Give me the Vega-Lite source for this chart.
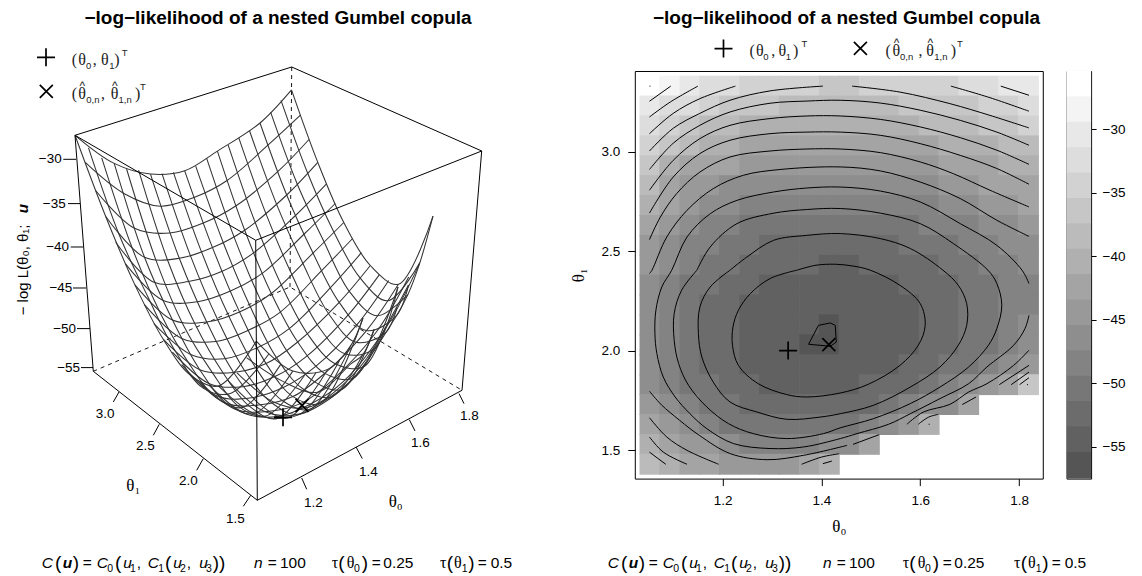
{"$schema":"https://vega.github.io/schema/vega-lite/v6.json","padding":0,"background":"white","bounds":"flush","spacing":23.8,"config":{"font":"Liberation Sans","view":{"stroke":null}},
"hconcat":[
{"width":610.9,"height":407.6,
"encoding":{"x":{"field":"x","type":"quantitative","axis":null,"scale":{"domain":[0,610.9],"nice":false,"zero":false}},"y":{"field":"y","type":"quantitative","axis":null,"scale":{"domain":[478.3,70.7],"nice":false,"zero":false}}},
"layer":[
{"data":{"values":[{"x":0,"y":0,"o":0},{"x":0,"y":576,"o":1},{"x":1142,"y":576,"o":2}]},"mark":{"type":"line","opacity":0,"strokeWidth":0},"encoding":{"order":{"field":"o"}}},
{"data":{"values":[{"t":"−log−likelihood of a nested Gumbel copula","x":278,"y":23.3},{"t":"−log−likelihood of a nested Gumbel copula","x":846.5,"y":23.3}]},"mark":{"type":"text","font":"Liberation Sans","fontSize":19,"fontWeight":"bold","align":"center","baseline":"alphabetic","color":"black"},"encoding":{"text":{"field":"t"}}},
{"data":{"values":[{"l":"a","o":0,"x":93.3,"y":371},{"l":"a","o":1,"x":290,"y":286.7},{"l":"a","o":2,"x":462,"y":390},{"l":"b","o":0,"x":290,"y":286.7},{"l":"b","o":1,"x":291.7,"y":66.7}]},"mark":{"type":"line","stroke":"black","strokeWidth":0.9,"strokeDash":[4,4]},"encoding":{"detail":{"field":"l"},"order":{"field":"o"}}},
{"data":{"values":[
{"w":"r0","x":75,"y":135},{"w":"r0","x":114.2,"y":163.1},{"w":"r0","x":150.5,"y":173.8},{"w":"r0","x":184.7,"y":170.5},{"w":"r0","x":217.4,"y":150.8},{"w":"r0","x":260,"y":122.7},{"w":"r0","x":291.5,"y":89.6},
{"w":"r1","x":85.3,"y":162.1},{"w":"r1","x":124.3,"y":193.4},{"w":"r1","x":160.3,"y":205.9},{"w":"r1","x":194,"y":197.2},{"w":"r1","x":226.7,"y":180.4},{"w":"r1","x":269,"y":143.9},{"w":"r1","x":300.4,"y":114.9},
{"w":"r2","x":95.6,"y":190.2},{"w":"r2","x":134.5,"y":228},{"w":"r2","x":169.8,"y":232.7},{"w":"r2","x":203.2,"y":222.8},{"w":"r2","x":235.7,"y":205.7},{"w":"r2","x":277.7,"y":171.4},{"w":"r2","x":309,"y":139.2},
{"w":"r3","x":105.7,"y":216.2},{"w":"r3","x":144.5,"y":257},{"w":"r3","x":179.3,"y":258},{"w":"r3","x":212.5,"y":247.3},{"w":"r3","x":244.7,"y":229.9},{"w":"r3","x":286.7,"y":194.7},{"w":"r3","x":317.8,"y":162.1},
{"w":"r4","x":115.7,"y":241.9},{"w":"r4","x":154,"y":281.9},{"w":"r4","x":188.5,"y":281.3},{"w":"r4","x":221.6,"y":271.3},{"w":"r4","x":253.6,"y":252.6},{"w":"r4","x":295.5,"y":215.2},{"w":"r4","x":326.5,"y":183.6},
{"w":"r5","x":125.3,"y":263.3},{"w":"r5","x":163.2,"y":300.1},{"w":"r5","x":197.6,"y":301.4},{"w":"r5","x":230.5,"y":290.8},{"w":"r5","x":262.5,"y":272.9},{"w":"r5","x":304.2,"y":233.7},{"w":"r5","x":335.2,"y":203.2},
{"w":"r6","x":134.9,"y":284.6},{"w":"r6","x":172.5,"y":319.8},{"w":"r6","x":206.7,"y":321.7},{"w":"r6","x":239.5,"y":311.6},{"w":"r6","x":271.3,"y":293.2},{"w":"r6","x":313,"y":252.8},{"w":"r6","x":343.8,"y":222.2},
{"w":"r7","x":144.4,"y":304.3},{"w":"r7","x":181.6,"y":338.1},{"w":"r7","x":215.7,"y":341.2},{"w":"r7","x":248.3,"y":330},{"w":"r7","x":280,"y":312},{"w":"r7","x":321.6,"y":270.4},{"w":"r7","x":352.6,"y":238.2},
{"w":"r8","x":153.9,"y":323.3},{"w":"r8","x":190.6,"y":354.1},{"w":"r8","x":224.6,"y":358.4},{"w":"r8","x":257.2,"y":347.4},{"w":"r8","x":288.9,"y":328.5},{"w":"r8","x":330.5,"y":287.3},{"w":"r8","x":361.4,"y":252.4},
{"w":"r9","x":163.2,"y":338.9},{"w":"r9","x":199.7,"y":369.4},{"w":"r9","x":233.6,"y":372.2},{"w":"r9","x":266.1,"y":363.3},{"w":"r9","x":297.7,"y":341.7},{"w":"r9","x":339.2,"y":302.1},{"w":"r9","x":370.3,"y":265.2},
{"w":"r10","x":172.4,"y":351.9},{"w":"r10","x":208.8,"y":383.1},{"w":"r10","x":242.5,"y":386.4},{"w":"r10","x":274.9,"y":376.3},{"w":"r10","x":306.5,"y":356.1},{"w":"r10","x":348.2,"y":314.6},{"w":"r10","x":379.4,"y":274.3},
{"w":"r11","x":181.6,"y":364.4},{"w":"r11","x":217.7,"y":396},{"w":"r11","x":251.4,"y":397.4},{"w":"r11","x":283.8,"y":387},{"w":"r11","x":315.4,"y":366.4},{"w":"r11","x":357.2,"y":324.1},{"w":"r11","x":388.7,"y":280.2},
{"w":"r12","x":190.8,"y":375.2},{"w":"r12","x":226.8,"y":403.3},{"w":"r12","x":260.4,"y":404.5},{"w":"r12","x":292.9,"y":396.3},{"w":"r12","x":324.7,"y":373.1},{"w":"r12","x":366.5,"y":330.3},{"w":"r12","x":398.4,"y":284},
{"w":"r13","x":200,"y":381.8},{"w":"r13","x":235.8,"y":409.2},{"w":"r13","x":269.5,"y":411},{"w":"r13","x":302,"y":402.6},{"w":"r13","x":333.8,"y":378.5},{"w":"r13","x":376.1,"y":332},{"w":"r13","x":408.7,"y":276.6},
{"w":"r14","x":209,"y":384.9},{"w":"r14","x":244.8,"y":413.2},{"w":"r14","x":278.6,"y":416},{"w":"r14","x":311.2,"y":403.5},{"w":"r14","x":343.2,"y":381.3},{"w":"r14","x":386,"y":327.4},{"w":"r14","x":419.5,"y":263.3},
{"w":"r15","x":218.3,"y":385.7},{"w":"r15","x":254.1,"y":413.4},{"w":"r15","x":287.9,"y":417.5},{"w":"r15","x":320.7,"y":402.8},{"w":"r15","x":353,"y":378},{"w":"r15","x":396.6,"y":315.2},{"w":"r15","x":407.9,"y":294.3},{"w":"r15","x":419.9,"y":262.3},{"w":"r15","x":433,"y":215.9},
{"w":"r16","x":227.6,"y":379.9},{"w":"r16","x":263.5,"y":410.8},{"w":"r16","x":297.5,"y":414.4},{"w":"r16","x":330.5,"y":397.9},{"w":"r16","x":363.2,"y":367.4},{"w":"r16","x":385.7,"y":326.9},{"w":"r16","x":408.5,"y":284.8},
{"w":"r17","x":237,"y":372.5},{"w":"r17","x":273,"y":401.4},{"w":"r17","x":307.1,"y":407.3},{"w":"r17","x":340.5,"y":386.6},{"w":"r17","x":374,"y":347.2},{"w":"r17","x":398,"y":286.7},
{"w":"r18","x":246.5,"y":357.4},{"w":"r18","x":282.9,"y":381.1},{"w":"r18","x":317.3,"y":391.9},{"w":"r18","x":351.2,"y":363.3},{"w":"r18","x":362.5,"y":354.9},{"w":"r18","x":374.2,"y":329},
{"w":"r19","x":256.3,"y":340.9},{"w":"r19","x":292.8,"y":370.8},{"w":"r19","x":327.6,"y":369.1},{"w":"r19","x":350.9,"y":345.1},{"w":"r19","x":363,"y":317.7},
{"w":"c0","x":75,"y":135},{"w":"c0","x":105.7,"y":216.2},{"w":"c0","x":134.9,"y":284.6},{"w":"c0","x":163.2,"y":338.9},{"w":"c0","x":190.8,"y":375.2},{"w":"c0","x":218.3,"y":385.7},{"w":"c0","x":256.3,"y":340.9},
{"w":"c1","x":88.5,"y":147.6},{"w":"c1","x":119.2,"y":234.5},{"w":"c1","x":147.7,"y":296.2},{"w":"c1","x":175.7,"y":351.5},{"w":"c1","x":203.1,"y":387.8},{"w":"c1","x":230.4,"y":393.1},{"w":"c1","x":268.8,"y":353.7},
{"w":"c2","x":101.7,"y":157.6},{"w":"c2","x":132,"y":247.2},{"w":"c2","x":160.5,"y":313.1},{"w":"c2","x":187.8,"y":361.3},{"w":"c2","x":215,"y":396.6},{"w":"c2","x":242.5,"y":407.2},{"w":"c2","x":280.9,"y":363.8},
{"w":"c3","x":114.2,"y":163.1},{"w":"c3","x":144.5,"y":257},{"w":"c3","x":172.5,"y":319.8},{"w":"c3","x":199.7,"y":369.4},{"w":"c3","x":226.8,"y":403.3},{"w":"c3","x":254.1,"y":413.4},{"w":"c3","x":292.8,"y":370.8},
{"w":"c4","x":126.6,"y":168.7},{"w":"c4","x":156.3,"y":260.8},{"w":"c4","x":184.2,"y":326.5},{"w":"c4","x":211.2,"y":370.6},{"w":"c4","x":238.2,"y":405.8},{"w":"c4","x":265.6,"y":415.8},{"w":"c4","x":304.6,"y":374.9},
{"w":"c5","x":138.6,"y":169.8},{"w":"c5","x":167.9,"y":260.7},{"w":"c5","x":195.5,"y":324.8},{"w":"c5","x":222.5,"y":371.7},{"w":"c5","x":249.4,"y":405.9},{"w":"c5","x":276.8,"y":418.4},{"w":"c5","x":316.2,"y":371.9},
{"w":"c6","x":150.5,"y":173.8},{"w":"c6","x":179.3,"y":258},{"w":"c6","x":206.7,"y":321.7},{"w":"c6","x":233.6,"y":372.2},{"w":"c6","x":260.4,"y":404.5},{"w":"c6","x":287.9,"y":417.5},{"w":"c6","x":327.6,"y":369.1},
{"w":"c7","x":162,"y":173.3},{"w":"c7","x":190.4,"y":255.3},{"w":"c7","x":217.7,"y":319.4},{"w":"c7","x":244.5,"y":370.2},{"w":"c7","x":271.4,"y":402.3},{"w":"c7","x":299,"y":413.8},{"w":"c7","x":339.3,"y":360.8},
{"w":"c8","x":173.4,"y":172},{"w":"c8","x":201.5,"y":251.6},{"w":"c8","x":228.7,"y":315.5},{"w":"c8","x":255.4,"y":366.9},{"w":"c8","x":282.2,"y":400.2},{"w":"c8","x":309.8,"y":409},{"w":"c8","x":350.9,"y":345.1},
{"w":"c9","x":184.7,"y":170.5},{"w":"c9","x":212.5,"y":247.3},{"w":"c9","x":239.5,"y":311.6},{"w":"c9","x":266.1,"y":363.3},{"w":"c9","x":292.9,"y":396.3},{"w":"c9","x":320.7,"y":402.8},{"w":"c9","x":363,"y":317.7},
{"w":"c10","x":195.7,"y":165.8},{"w":"c10","x":223.3,"y":242.4},{"w":"c10","x":250.2,"y":306.2},{"w":"c10","x":276.6,"y":357.6},{"w":"c10","x":303.5,"y":388.9},{"w":"c10","x":331.4,"y":396.6},{"w":"c10","x":362.5,"y":354.9},
{"w":"c11","x":206.6,"y":157.9},{"w":"c11","x":234,"y":236.6},{"w":"c11","x":260.7,"y":300.1},{"w":"c11","x":287.2,"y":351.1},{"w":"c11","x":314.2,"y":381.3},{"w":"c11","x":342.2,"y":388.9},{"w":"c11","x":374.2,"y":329},
{"w":"c12","x":217.4,"y":150.8},{"w":"c12","x":244.7,"y":229.9},{"w":"c12","x":271.3,"y":293.2},{"w":"c12","x":297.7,"y":341.7},{"w":"c12","x":324.7,"y":373.1},{"w":"c12","x":353,"y":378},{"w":"c12","x":374,"y":347.2},
{"w":"c13","x":228.1,"y":144.5},{"w":"c13","x":255.3,"y":222.5},{"w":"c13","x":281.7,"y":285.5},{"w":"c13","x":308.1,"y":334.5},{"w":"c13","x":335.1,"y":363.5},{"w":"c13","x":363.7,"y":366.5},{"w":"c13","x":385.4,"y":327.1},
{"w":"c14","x":238.8,"y":137.6},{"w":"c14","x":265.8,"y":213.1},{"w":"c14","x":292.1,"y":274.8},{"w":"c14","x":318.4,"y":326},{"w":"c14","x":345.6,"y":353.8},{"w":"c14","x":374.7,"y":347.9},{"w":"c14","x":398,"y":286.7},
{"w":"c15","x":249.5,"y":130.5},{"w":"c15","x":276.3,"y":203.3},{"w":"c15","x":302.7,"y":262.7},{"w":"c15","x":328.8,"y":313.7},{"w":"c15","x":356.1,"y":342},{"w":"c15","x":385.6,"y":332.3},{"w":"c15","x":396.9,"y":307.9},
{"w":"c16","x":260,"y":122.7},{"w":"c16","x":286.7,"y":194.7},{"w":"c16","x":313,"y":252.8},{"w":"c16","x":339.2,"y":302.1},{"w":"c16","x":366.5,"y":330.3},{"w":"c16","x":396.6,"y":315.2},{"w":"c16","x":408.5,"y":284.8},
{"w":"c17","x":270.6,"y":111.9},{"w":"c17","x":297.1,"y":183.4},{"w":"c17","x":323.3,"y":240},{"w":"c17","x":349.5,"y":291.3},{"w":"c17","x":377.1,"y":315.5},{"w":"c17","x":407.9,"y":294.3},
{"w":"c18","x":281,"y":100},{"w":"c18","x":307.5,"y":172.4},{"w":"c18","x":333.6,"y":231.1},{"w":"c18","x":359.9,"y":277.4},{"w":"c18","x":387.7,"y":300.5},{"w":"c18","x":419.9,"y":262.3},
{"w":"c19","x":291.5,"y":89.6},{"w":"c19","x":317.8,"y":162.1},{"w":"c19","x":343.8,"y":222.2},{"w":"c19","x":370.3,"y":265.2},{"w":"c19","x":398.4,"y":284},{"w":"c19","x":433,"y":215.9}
]},"mark":{"type":"line","stroke":"#333333","strokeWidth":1.05,"interpolate":"catmull-rom"},"encoding":{"detail":{"field":"w"}}},
{"data":{"values":[
{"l":"t","o":0,"x":75,"y":135},{"l":"t","o":1,"x":291.7,"y":66.7},{"l":"t","o":2,"x":481.7,"y":150.7},{"l":"t","o":3,"x":255.7,"y":240},{"l":"t","o":4,"x":75,"y":135},
{"l":"vl","o":0,"x":75,"y":135},{"l":"vl","o":1,"x":93.3,"y":371},{"l":"vl","o":2,"x":257.3,"y":500},{"l":"vl","o":3,"x":462,"y":390},{"l":"vl","o":4,"x":481.7,"y":150.7},
{"l":"vf","o":0,"x":255.7,"y":240},{"l":"vf","o":1,"x":257.3,"y":500},
{"l":"z1","o":0,"x":76,"y":159},{"l":"z1","o":1,"x":63.3,"y":159},{"l":"z2","o":0,"x":80,"y":203.3},{"l":"z2","o":1,"x":68,"y":203.3},{"l":"z3","o":0,"x":83,"y":246.7},{"l":"z3","o":1,"x":70.7,"y":246.7},{"l":"z4","o":0,"x":86,"y":287.7},{"l":"z4","o":1,"x":73,"y":287.7},{"l":"z5","o":0,"x":90,"y":328.3},{"l":"z5","o":1,"x":77,"y":328.3},{"l":"z6","o":0,"x":93,"y":367.3},{"l":"z6","o":1,"x":81,"y":367.3},
{"l":"b1","o":0,"x":119,"y":391.7},{"l":"b1","o":1,"x":113.3,"y":401.7},{"l":"b2","o":0,"x":159.3,"y":424},{"l":"b2","o":1,"x":153.3,"y":435},{"l":"b3","o":0,"x":203.3,"y":458.3},{"l":"b3","o":1,"x":196.7,"y":470},{"l":"b4","o":0,"x":250.7,"y":495},{"l":"b4","o":1,"x":243.3,"y":506},
{"l":"a1","o":0,"x":301.7,"y":477.7},{"l":"a1","o":1,"x":306.7,"y":489},{"l":"a2","o":0,"x":356,"y":446.7},{"l":"a2","o":1,"x":362.3,"y":458.3},{"l":"a3","o":0,"x":409.3,"y":419.3},{"l":"a3","o":1,"x":415,"y":430.7},{"l":"a4","o":0,"x":459,"y":393.3},{"l":"a4","o":1,"x":464,"y":403.3}
]},"mark":{"type":"line","stroke":"black","strokeWidth":1},"encoding":{"detail":{"field":"l"},"order":{"field":"o"}}},
{"data":{"values":[{"x":46,"y":57},{"x":283,"y":417},{"x":723.5,"y":48.3}]},"mark":{"type":"point","shape":"M-1,0L1,0M0,-1L0,1","size":324,"filled":false,"stroke":"black","strokeWidth":1.7,"opacity":1}},
{"data":{"values":[{"x":46.3,"y":91},{"x":302,"y":405},{"x":860.4,"y":48}]},"mark":{"type":"point","shape":"M-1,-1L1,1M-1,1L1,-1","size":169,"filled":false,"stroke":"black","strokeWidth":1.7,"opacity":1}},
{"data":{"values":[{"t":"3.0","x":105,"y":413.3},{"t":"2.5","x":145.3,"y":446},{"t":"2.0","x":188.3,"y":481},{"t":"1.5","x":235.3,"y":518.3},{"t":"1.2","x":313.3,"y":502.3},{"t":"1.4","x":368.3,"y":471.7},{"t":"1.6","x":420.3,"y":442.3},{"t":"1.8","x":469.3,"y":415.3}]},"mark":{"type":"text","font":"Liberation Sans","fontSize":13.5,"align":"center","baseline":"middle","color":"black"},"encoding":{"text":{"field":"t"}}},
{"data":{"values":[{"t":"−30","x":61.7,"y":159},{"t":"−35","x":65.7,"y":203.3},{"t":"−40","x":69,"y":246.7},{"t":"−45","x":72.3,"y":287.7},{"t":"−50","x":76,"y":328.3},{"t":"−55","x":80,"y":367.3}]},"mark":{"type":"text","font":"Liberation Sans","fontSize":13.5,"align":"right","baseline":"middle","color":"black"},"encoding":{"text":{"field":"t"}}},
{"data":{"values":[{"t":"θ₁","x":133.3,"y":486},{"t":"θ₀","x":395.7,"y":501.7}]},"mark":{"type":"text","font":"Liberation Serif","fontSize":17,"align":"center","baseline":"middle","color":"black"},"encoding":{"text":{"field":"t"}}},
{"data":{"values":[{"t":"− log L(θ₀, θ₁; ","x":28,"y":315}]},"mark":{"type":"text","font":"Liberation Sans","fontSize":15,"angle":270,"align":"left","baseline":"alphabetic","color":"black"},"encoding":{"text":{"field":"t"}}},
{"data":{"values":[{"t":"u","x":28,"y":213}]},"mark":{"type":"text","font":"Liberation Sans","fontSize":15,"fontWeight":"bold","fontStyle":"italic","angle":270,"align":"left","baseline":"alphabetic","color":"black"},"encoding":{"text":{"field":"t"}}},
{"data":{"values":[{"t":"=","x":82.7,"y":568},{"t":",","x":136.7,"y":568},{"t":",","x":186.7,"y":568},{"t":"=","x":267.7,"y":568},{"t":"100","x":280,"y":568},{"t":"=","x":371.7,"y":568},{"t":"0.25","x":383.3,"y":568},{"t":"=","x":477.7,"y":568},{"t":"0.5","x":490.7,"y":568},{"t":"=","x":648.7,"y":568},{"t":",","x":702.7,"y":568},{"t":",","x":752.7,"y":568},{"t":"=","x":836.7,"y":568},{"t":"100","x":849,"y":568},{"t":"=","x":942.7,"y":568},{"t":"0.25","x":954.3,"y":568},{"t":"=","x":1051.7,"y":568},{"t":"0.5","x":1064.7,"y":568}]},"mark":{"type":"text","font":"Liberation Sans","fontSize":15.5,"align":"left","baseline":"alphabetic","color":"black"},"encoding":{"text":{"field":"t"}}},
{"data":{"values":[{"t":"C","x":41.7,"y":568},{"t":"C","x":96.7,"y":568},{"t":"C","x":147.7,"y":568},{"t":"n","x":254,"y":568},{"t":"u","x":123.3,"y":568},{"t":"u","x":173.3,"y":568},{"t":"u","x":199.3,"y":568},{"t":"C","x":607.7,"y":568},{"t":"C","x":662.7,"y":568},{"t":"C","x":713.7,"y":568},{"t":"n","x":823,"y":568},{"t":"u","x":689.3,"y":568},{"t":"u","x":739.3,"y":568},{"t":"u","x":765.3,"y":568}]},"mark":{"type":"text","font":"Liberation Sans","fontSize":15.5,"fontStyle":"italic","align":"left","baseline":"alphabetic","color":"black"},"encoding":{"text":{"field":"t"}}},
{"data":{"values":[{"t":"u","x":62.7,"y":568},{"t":"u","x":628.7,"y":568}]},"mark":{"type":"text","font":"Liberation Sans","fontSize":15.5,"fontStyle":"italic","fontWeight":"bold","align":"left","baseline":"alphabetic","color":"black"},"encoding":{"text":{"field":"t"}}},
{"data":{"values":[{"t":"(","x":55,"y":569},{"t":")","x":72.7,"y":569},{"t":"(","x":115,"y":569},{"t":"(","x":165,"y":569},{"t":"))","x":212.7,"y":569},{"t":"(","x":338.3,"y":569},{"t":")","x":361.7,"y":569},{"t":"(","x":446.7,"y":569},{"t":")","x":468.3,"y":569},{"t":"(","x":621,"y":569},{"t":")","x":638.7,"y":569},{"t":"(","x":681,"y":569},{"t":"(","x":731,"y":569},{"t":"))","x":778.7,"y":569},{"t":"(","x":909.3,"y":569},{"t":")","x":932.7,"y":569},{"t":"(","x":1020.7,"y":569},{"t":")","x":1042.3,"y":569}]},"mark":{"type":"text","font":"Liberation Sans","fontSize":19,"align":"left","baseline":"alphabetic","color":"black"},"encoding":{"text":{"field":"t"}}},
{"data":{"values":[{"t":"τ","x":331.7,"y":568},{"t":"θ","x":346.7,"y":568},{"t":"τ","x":440,"y":568},{"t":"θ","x":454,"y":568},{"t":"τ","x":902.7,"y":568},{"t":"θ","x":917.7,"y":568},{"t":"τ","x":1014,"y":568},{"t":"θ","x":1028,"y":568}]},"mark":{"type":"text","font":"Liberation Serif","fontSize":16,"align":"left","baseline":"alphabetic","color":"black"},"encoding":{"text":{"field":"t"}}},
{"data":{"values":[{"t":"0","x":107.3,"y":571.5},{"t":"1","x":130,"y":571.5},{"t":"1","x":158.3,"y":571.5},{"t":"2","x":180,"y":571.5},{"t":"3","x":206,"y":571.5},{"t":"0","x":354,"y":571.5},{"t":"1","x":461.7,"y":571.5},{"t":"0","x":673.3,"y":571.5},{"t":"1","x":696,"y":571.5},{"t":"1","x":724.3,"y":571.5},{"t":"2","x":746,"y":571.5},{"t":"3","x":772,"y":571.5},{"t":"0","x":925,"y":571.5},{"t":"1","x":1035.7,"y":571.5}]},"mark":{"type":"text","font":"Liberation Sans","fontSize":10.5,"align":"left","baseline":"alphabetic","color":"black"},"encoding":{"text":{"field":"t"}}},
{"data":{"values":[{"t":"(","x":71.7,"y":65},{"t":"θ","x":78.3,"y":65},{"t":",","x":92.7,"y":65},{"t":"θ","x":101,"y":65},{"t":")","x":114.3,"y":65},{"t":"(","x":71.7,"y":99},{"t":"θ","x":78.3,"y":99},{"t":",","x":101,"y":99},{"t":"θ","x":110.7,"y":99},{"t":")","x":135,"y":99},{"t":"(","x":749.4,"y":56},{"t":"θ","x":756,"y":56},{"t":",","x":771.2,"y":56},{"t":"θ","x":778.5,"y":56},{"t":")","x":793,"y":56},{"t":"(","x":885.5,"y":56},{"t":"θ","x":892.5,"y":56},{"t":",","x":918.5,"y":56},{"t":"θ","x":926.3,"y":56},{"t":")","x":950.7,"y":56}]},"mark":{"type":"text","font":"Liberation Serif","fontSize":16,"align":"left","baseline":"alphabetic","color":"#222222"},"encoding":{"text":{"field":"t"}}},
{"data":{"values":[{"t":"0","x":86,"y":68.5},{"t":"1","x":109.3,"y":68.5},{"t":"T","x":121.7,"y":56},{"t":"0,n","x":86.3,"y":102.5},{"t":"1,n","x":118.5,"y":102.5},{"t":"T","x":140,"y":90},{"t":"0","x":763.2,"y":59.5},{"t":"1","x":785.8,"y":59.5},{"t":"T","x":801.5,"y":47},{"t":"0,n","x":900,"y":59.5},{"t":"1,n","x":934.3,"y":59.5},{"t":"T","x":956.9,"y":47}]},"mark":{"type":"text","font":"Liberation Sans","fontSize":9.5,"align":"left","baseline":"alphabetic","color":"#222222"},"encoding":{"text":{"field":"t"}}},
{"data":{"values":[{"t":"^","x":79.5,"y":90},{"t":"^","x":111.9,"y":90},{"t":"^","x":893.7,"y":47},{"t":"^","x":927.5,"y":47}]},"mark":{"type":"text","font":"Liberation Sans","fontSize":12,"align":"left","baseline":"alphabetic","color":"#222222"},"encoding":{"text":{"field":"t"}}}
]},
{"width":408,"height":407.6,"view":{"stroke":"black","strokeWidth":1},
"encoding":{"x":{"field":"a","type":"quantitative","title":"θ₀","scale":{"domain":[1.0223,1.848],"nice":false,"zero":false},"axis":{"values":[1.2,1.4,1.6,1.8],"format":".1f","grid":false,"domain":false,"tickColor":"black","tickSize":7,"labelFont":"Liberation Sans","labelFontSize":13.5,"labelColor":"black","labelPadding":8,"titleFont":"Liberation Serif","titleFontSize":17,"titleFontWeight":"normal","titleColor":"black","titlePadding":11}},
"y":{"field":"b","type":"quantitative","title":"θ₁","scale":{"domain":[1.358,3.406],"nice":false,"zero":false},"axis":{"values":[1.5,2,2.5,3],"format":".1f","grid":false,"domain":false,"tickColor":"black","tickSize":7,"labelFont":"Liberation Sans","labelFontSize":13.5,"labelColor":"black","labelPadding":8,"titleFont":"Liberation Serif","titleFontSize":17,"titleFontWeight":"normal","titleColor":"black","titlePadding":14}}},
"layer":[
{"data":{"values":[
{"a":1.053,"b":3.33,"v":-26},{"a":1.093,"b":3.33,"v":-28},{"a":1.134,"b":3.33,"v":-30},{"a":1.174,"b":3.33,"v":-32},{"a":1.214,"b":3.33,"v":-32},{"a":1.255,"b":3.33,"v":-34},{"a":1.295,"b":3.33,"v":-34},{"a":1.335,"b":3.33,"v":-34},{"a":1.376,"b":3.33,"v":-34},{"a":1.416,"b":3.33,"v":-36},{"a":1.456,"b":3.33,"v":-36},{"a":1.497,"b":3.33,"v":-34},{"a":1.537,"b":3.33,"v":-34},{"a":1.577,"b":3.33,"v":-34},{"a":1.618,"b":3.33,"v":-34},{"a":1.658,"b":3.33,"v":-34},{"a":1.698,"b":3.33,"v":-32},{"a":1.739,"b":3.33,"v":-32},{"a":1.779,"b":3.33,"v":-30},{"a":1.819,"b":3.33,"v":-30},
{"a":1.053,"b":3.23,"v":-30},{"a":1.093,"b":3.23,"v":-32},{"a":1.134,"b":3.23,"v":-32},{"a":1.174,"b":3.23,"v":-34},{"a":1.214,"b":3.23,"v":-36},{"a":1.255,"b":3.23,"v":-36},{"a":1.295,"b":3.23,"v":-36},{"a":1.335,"b":3.23,"v":-38},{"a":1.376,"b":3.23,"v":-38},{"a":1.416,"b":3.23,"v":-38},{"a":1.456,"b":3.23,"v":-38},{"a":1.497,"b":3.23,"v":-38},{"a":1.537,"b":3.23,"v":-38},{"a":1.577,"b":3.23,"v":-36},{"a":1.618,"b":3.23,"v":-36},{"a":1.658,"b":3.23,"v":-36},{"a":1.698,"b":3.23,"v":-36},{"a":1.739,"b":3.23,"v":-34},{"a":1.779,"b":3.23,"v":-34},{"a":1.819,"b":3.23,"v":-32},
{"a":1.053,"b":3.13,"v":-32},{"a":1.093,"b":3.13,"v":-34},{"a":1.134,"b":3.13,"v":-36},{"a":1.174,"b":3.13,"v":-38},{"a":1.214,"b":3.13,"v":-38},{"a":1.255,"b":3.13,"v":-40},{"a":1.295,"b":3.13,"v":-40},{"a":1.335,"b":3.13,"v":-40},{"a":1.376,"b":3.13,"v":-40},{"a":1.416,"b":3.13,"v":-40},{"a":1.456,"b":3.13,"v":-40},{"a":1.497,"b":3.13,"v":-40},{"a":1.537,"b":3.13,"v":-40},{"a":1.577,"b":3.13,"v":-40},{"a":1.618,"b":3.13,"v":-38},{"a":1.658,"b":3.13,"v":-38},{"a":1.698,"b":3.13,"v":-38},{"a":1.739,"b":3.13,"v":-36},{"a":1.779,"b":3.13,"v":-36},{"a":1.819,"b":3.13,"v":-34},
{"a":1.053,"b":3.03,"v":-34},{"a":1.093,"b":3.03,"v":-36},{"a":1.134,"b":3.03,"v":-38},{"a":1.174,"b":3.03,"v":-40},{"a":1.214,"b":3.03,"v":-40},{"a":1.255,"b":3.03,"v":-42},{"a":1.295,"b":3.03,"v":-42},{"a":1.335,"b":3.03,"v":-42},{"a":1.376,"b":3.03,"v":-42},{"a":1.416,"b":3.03,"v":-42},{"a":1.456,"b":3.03,"v":-42},{"a":1.497,"b":3.03,"v":-42},{"a":1.537,"b":3.03,"v":-42},{"a":1.577,"b":3.03,"v":-42},{"a":1.618,"b":3.03,"v":-42},{"a":1.658,"b":3.03,"v":-40},{"a":1.698,"b":3.03,"v":-40},{"a":1.739,"b":3.03,"v":-40},{"a":1.779,"b":3.03,"v":-38},{"a":1.819,"b":3.03,"v":-38},
{"a":1.053,"b":2.93,"v":-36},{"a":1.093,"b":2.93,"v":-40},{"a":1.134,"b":2.93,"v":-42},{"a":1.174,"b":2.93,"v":-42},{"a":1.214,"b":2.93,"v":-42},{"a":1.255,"b":2.93,"v":-44},{"a":1.295,"b":2.93,"v":-44},{"a":1.335,"b":2.93,"v":-44},{"a":1.376,"b":2.93,"v":-44},{"a":1.416,"b":2.93,"v":-44},{"a":1.456,"b":2.93,"v":-44},{"a":1.497,"b":2.93,"v":-44},{"a":1.537,"b":2.93,"v":-44},{"a":1.577,"b":2.93,"v":-44},{"a":1.618,"b":2.93,"v":-44},{"a":1.658,"b":2.93,"v":-42},{"a":1.698,"b":2.93,"v":-42},{"a":1.739,"b":2.93,"v":-42},{"a":1.779,"b":2.93,"v":-40},{"a":1.819,"b":2.93,"v":-40},
{"a":1.053,"b":2.83,"v":-38},{"a":1.093,"b":2.83,"v":-42},{"a":1.134,"b":2.83,"v":-44},{"a":1.174,"b":2.83,"v":-44},{"a":1.214,"b":2.83,"v":-46},{"a":1.255,"b":2.83,"v":-46},{"a":1.295,"b":2.83,"v":-46},{"a":1.335,"b":2.83,"v":-46},{"a":1.376,"b":2.83,"v":-46},{"a":1.416,"b":2.83,"v":-46},{"a":1.456,"b":2.83,"v":-46},{"a":1.497,"b":2.83,"v":-46},{"a":1.537,"b":2.83,"v":-46},{"a":1.577,"b":2.83,"v":-46},{"a":1.618,"b":2.83,"v":-46},{"a":1.658,"b":2.83,"v":-44},{"a":1.698,"b":2.83,"v":-44},{"a":1.739,"b":2.83,"v":-42},{"a":1.779,"b":2.83,"v":-42},{"a":1.819,"b":2.83,"v":-42},
{"a":1.053,"b":2.73,"v":-40},{"a":1.093,"b":2.73,"v":-42},{"a":1.134,"b":2.73,"v":-44},{"a":1.174,"b":2.73,"v":-46},{"a":1.214,"b":2.73,"v":-46},{"a":1.255,"b":2.73,"v":-48},{"a":1.295,"b":2.73,"v":-48},{"a":1.335,"b":2.73,"v":-48},{"a":1.376,"b":2.73,"v":-48},{"a":1.416,"b":2.73,"v":-48},{"a":1.456,"b":2.73,"v":-48},{"a":1.497,"b":2.73,"v":-48},{"a":1.537,"b":2.73,"v":-48},{"a":1.577,"b":2.73,"v":-48},{"a":1.618,"b":2.73,"v":-48},{"a":1.658,"b":2.73,"v":-46},{"a":1.698,"b":2.73,"v":-46},{"a":1.739,"b":2.73,"v":-44},{"a":1.779,"b":2.73,"v":-44},{"a":1.819,"b":2.73,"v":-42},
{"a":1.053,"b":2.63,"v":-42},{"a":1.093,"b":2.63,"v":-44},{"a":1.134,"b":2.63,"v":-46},{"a":1.174,"b":2.63,"v":-48},{"a":1.214,"b":2.63,"v":-48},{"a":1.255,"b":2.63,"v":-50},{"a":1.295,"b":2.63,"v":-50},{"a":1.335,"b":2.63,"v":-50},{"a":1.376,"b":2.63,"v":-50},{"a":1.416,"b":2.63,"v":-50},{"a":1.456,"b":2.63,"v":-50},{"a":1.497,"b":2.63,"v":-50},{"a":1.537,"b":2.63,"v":-50},{"a":1.577,"b":2.63,"v":-50},{"a":1.618,"b":2.63,"v":-48},{"a":1.658,"b":2.63,"v":-48},{"a":1.698,"b":2.63,"v":-48},{"a":1.739,"b":2.63,"v":-46},{"a":1.779,"b":2.63,"v":-46},{"a":1.819,"b":2.63,"v":-44},
{"a":1.053,"b":2.53,"v":-44},{"a":1.093,"b":2.53,"v":-46},{"a":1.134,"b":2.53,"v":-48},{"a":1.174,"b":2.53,"v":-48},{"a":1.214,"b":2.53,"v":-50},{"a":1.255,"b":2.53,"v":-50},{"a":1.295,"b":2.53,"v":-52},{"a":1.335,"b":2.53,"v":-52},{"a":1.376,"b":2.53,"v":-52},{"a":1.416,"b":2.53,"v":-52},{"a":1.456,"b":2.53,"v":-52},{"a":1.497,"b":2.53,"v":-52},{"a":1.537,"b":2.53,"v":-52},{"a":1.577,"b":2.53,"v":-50},{"a":1.618,"b":2.53,"v":-50},{"a":1.658,"b":2.53,"v":-50},{"a":1.698,"b":2.53,"v":-48},{"a":1.739,"b":2.53,"v":-48},{"a":1.779,"b":2.53,"v":-46},{"a":1.819,"b":2.53,"v":-46},
{"a":1.053,"b":2.43,"v":-44},{"a":1.093,"b":2.43,"v":-46},{"a":1.134,"b":2.43,"v":-48},{"a":1.174,"b":2.43,"v":-50},{"a":1.214,"b":2.43,"v":-50},{"a":1.255,"b":2.43,"v":-52},{"a":1.295,"b":2.43,"v":-52},{"a":1.335,"b":2.43,"v":-52},{"a":1.376,"b":2.43,"v":-52},{"a":1.416,"b":2.43,"v":-54},{"a":1.456,"b":2.43,"v":-54},{"a":1.497,"b":2.43,"v":-52},{"a":1.537,"b":2.43,"v":-52},{"a":1.577,"b":2.43,"v":-52},{"a":1.618,"b":2.43,"v":-52},{"a":1.658,"b":2.43,"v":-50},{"a":1.698,"b":2.43,"v":-50},{"a":1.739,"b":2.43,"v":-48},{"a":1.779,"b":2.43,"v":-48},{"a":1.819,"b":2.43,"v":-46},
{"a":1.053,"b":2.33,"v":-46},{"a":1.093,"b":2.33,"v":-48},{"a":1.134,"b":2.33,"v":-50},{"a":1.174,"b":2.33,"v":-50},{"a":1.214,"b":2.33,"v":-52},{"a":1.255,"b":2.33,"v":-52},{"a":1.295,"b":2.33,"v":-54},{"a":1.335,"b":2.33,"v":-54},{"a":1.376,"b":2.33,"v":-54},{"a":1.416,"b":2.33,"v":-54},{"a":1.456,"b":2.33,"v":-54},{"a":1.497,"b":2.33,"v":-54},{"a":1.537,"b":2.33,"v":-54},{"a":1.577,"b":2.33,"v":-52},{"a":1.618,"b":2.33,"v":-52},{"a":1.658,"b":2.33,"v":-52},{"a":1.698,"b":2.33,"v":-50},{"a":1.739,"b":2.33,"v":-50},{"a":1.779,"b":2.33,"v":-48},{"a":1.819,"b":2.33,"v":-48},
{"a":1.053,"b":2.23,"v":-46},{"a":1.093,"b":2.23,"v":-48},{"a":1.134,"b":2.23,"v":-50},{"a":1.174,"b":2.23,"v":-52},{"a":1.214,"b":2.23,"v":-52},{"a":1.255,"b":2.23,"v":-54},{"a":1.295,"b":2.23,"v":-54},{"a":1.335,"b":2.23,"v":-54},{"a":1.376,"b":2.23,"v":-54},{"a":1.416,"b":2.23,"v":-54},{"a":1.456,"b":2.23,"v":-54},{"a":1.497,"b":2.23,"v":-54},{"a":1.537,"b":2.23,"v":-54},{"a":1.577,"b":2.23,"v":-54},{"a":1.618,"b":2.23,"v":-52},{"a":1.658,"b":2.23,"v":-52},{"a":1.698,"b":2.23,"v":-50},{"a":1.739,"b":2.23,"v":-50},{"a":1.779,"b":2.23,"v":-48},{"a":1.819,"b":2.23,"v":-48},
{"a":1.053,"b":2.13,"v":-46},{"a":1.093,"b":2.13,"v":-48},{"a":1.134,"b":2.13,"v":-50},{"a":1.174,"b":2.13,"v":-52},{"a":1.214,"b":2.13,"v":-52},{"a":1.255,"b":2.13,"v":-54},{"a":1.295,"b":2.13,"v":-54},{"a":1.335,"b":2.13,"v":-54},{"a":1.376,"b":2.13,"v":-54},{"a":1.416,"b":2.13,"v":-56},{"a":1.456,"b":2.13,"v":-54},{"a":1.497,"b":2.13,"v":-54},{"a":1.537,"b":2.13,"v":-54},{"a":1.577,"b":2.13,"v":-54},{"a":1.618,"b":2.13,"v":-52},{"a":1.658,"b":2.13,"v":-52},{"a":1.698,"b":2.13,"v":-50},{"a":1.739,"b":2.13,"v":-50},{"a":1.779,"b":2.13,"v":-48},{"a":1.819,"b":2.13,"v":-46},
{"a":1.053,"b":2.03,"v":-46},{"a":1.093,"b":2.03,"v":-48},{"a":1.134,"b":2.03,"v":-50},{"a":1.174,"b":2.03,"v":-52},{"a":1.214,"b":2.03,"v":-52},{"a":1.255,"b":2.03,"v":-54},{"a":1.295,"b":2.03,"v":-54},{"a":1.335,"b":2.03,"v":-54},{"a":1.376,"b":2.03,"v":-56},{"a":1.416,"b":2.03,"v":-56},{"a":1.456,"b":2.03,"v":-54},{"a":1.497,"b":2.03,"v":-54},{"a":1.537,"b":2.03,"v":-54},{"a":1.577,"b":2.03,"v":-54},{"a":1.618,"b":2.03,"v":-52},{"a":1.658,"b":2.03,"v":-52},{"a":1.698,"b":2.03,"v":-50},{"a":1.739,"b":2.03,"v":-50},{"a":1.779,"b":2.03,"v":-48},{"a":1.819,"b":2.03,"v":-46},
{"a":1.053,"b":1.93,"v":-46},{"a":1.093,"b":1.93,"v":-48},{"a":1.134,"b":1.93,"v":-50},{"a":1.174,"b":1.93,"v":-52},{"a":1.214,"b":1.93,"v":-52},{"a":1.255,"b":1.93,"v":-54},{"a":1.295,"b":1.93,"v":-54},{"a":1.335,"b":1.93,"v":-54},{"a":1.376,"b":1.93,"v":-54},{"a":1.416,"b":1.93,"v":-54},{"a":1.456,"b":1.93,"v":-54},{"a":1.497,"b":1.93,"v":-54},{"a":1.537,"b":1.93,"v":-54},{"a":1.577,"b":1.93,"v":-52},{"a":1.618,"b":1.93,"v":-52},{"a":1.658,"b":1.93,"v":-50},{"a":1.698,"b":1.93,"v":-50},{"a":1.739,"b":1.93,"v":-48},{"a":1.779,"b":1.93,"v":-46},{"a":1.819,"b":1.93,"v":-44},
{"a":1.053,"b":1.83,"v":-46},{"a":1.093,"b":1.83,"v":-48},{"a":1.134,"b":1.83,"v":-50},{"a":1.174,"b":1.83,"v":-50},{"a":1.214,"b":1.83,"v":-52},{"a":1.255,"b":1.83,"v":-52},{"a":1.295,"b":1.83,"v":-54},{"a":1.335,"b":1.83,"v":-54},{"a":1.376,"b":1.83,"v":-54},{"a":1.416,"b":1.83,"v":-54},{"a":1.456,"b":1.83,"v":-54},{"a":1.497,"b":1.83,"v":-52},{"a":1.537,"b":1.83,"v":-52},{"a":1.577,"b":1.83,"v":-52},{"a":1.618,"b":1.83,"v":-50},{"a":1.658,"b":1.83,"v":-48},{"a":1.698,"b":1.83,"v":-46},{"a":1.739,"b":1.83,"v":-44},{"a":1.779,"b":1.83,"v":-42},{"a":1.819,"b":1.83,"v":-36},
{"a":1.053,"b":1.73,"v":-44},{"a":1.093,"b":1.73,"v":-46},{"a":1.134,"b":1.73,"v":-48},{"a":1.174,"b":1.73,"v":-50},{"a":1.214,"b":1.73,"v":-50},{"a":1.255,"b":1.73,"v":-52},{"a":1.295,"b":1.73,"v":-52},{"a":1.335,"b":1.73,"v":-52},{"a":1.376,"b":1.73,"v":-52},{"a":1.416,"b":1.73,"v":-52},{"a":1.456,"b":1.73,"v":-52},{"a":1.497,"b":1.73,"v":-52},{"a":1.537,"b":1.73,"v":-50},{"a":1.577,"b":1.73,"v":-48},{"a":1.618,"b":1.73,"v":-46},{"a":1.658,"b":1.73,"v":-46},{"a":1.698,"b":1.73,"v":-42},
{"a":1.053,"b":1.63,"v":-42},{"a":1.093,"b":1.63,"v":-44},{"a":1.134,"b":1.63,"v":-46},{"a":1.174,"b":1.63,"v":-48},{"a":1.214,"b":1.63,"v":-50},{"a":1.255,"b":1.63,"v":-50},{"a":1.295,"b":1.63,"v":-50},{"a":1.335,"b":1.63,"v":-50},{"a":1.376,"b":1.63,"v":-50},{"a":1.416,"b":1.63,"v":-50},{"a":1.456,"b":1.63,"v":-50},{"a":1.497,"b":1.63,"v":-48},{"a":1.537,"b":1.63,"v":-46},{"a":1.577,"b":1.63,"v":-44},{"a":1.618,"b":1.63,"v":-40},
{"a":1.053,"b":1.53,"v":-40},{"a":1.093,"b":1.53,"v":-42},{"a":1.134,"b":1.53,"v":-44},{"a":1.174,"b":1.53,"v":-44},{"a":1.214,"b":1.53,"v":-46},{"a":1.255,"b":1.53,"v":-48},{"a":1.295,"b":1.53,"v":-48},{"a":1.335,"b":1.53,"v":-48},{"a":1.376,"b":1.53,"v":-48},{"a":1.416,"b":1.53,"v":-46},{"a":1.456,"b":1.53,"v":-46},{"a":1.497,"b":1.53,"v":-42},
{"a":1.053,"b":1.43,"v":-38},{"a":1.093,"b":1.43,"v":-40},{"a":1.134,"b":1.43,"v":-42},{"a":1.174,"b":1.43,"v":-42},{"a":1.214,"b":1.43,"v":-44},{"a":1.255,"b":1.43,"v":-44},{"a":1.295,"b":1.43,"v":-44},{"a":1.335,"b":1.43,"v":-44},{"a":1.376,"b":1.43,"v":-42},{"a":1.416,"b":1.43,"v":-40}
]},"mark":{"type":"rect","width":20.9,"height":20.9},"encoding":{"color":{"field":"v","type":"quantitative","legend":null,"scale":{"type":"threshold","domain":[-55,-53,-51,-49,-47,-45,-43,-41,-39,-37,-35,-33,-31,-29,-27],"range":["#555555","#616161","#6c6c6c","#777777","#838383","#8e8e8e","#999999","#a4a4a4","#b0b0b0","#bbbbbb","#c6c6c6","#d2d2d2","#dddddd","#e8e8e8","#f4f4f4","#ffffff"]}}}},
{"data":{"values":[
{"p":"m30","o":0,"a":1.052,"b":3.254},{"p":"m30","o":1,"a":1.095,"b":3.33},
{"p":"m32","o":0,"a":1.052,"b":3.175},{"p":"m32","o":1,"a":1.094,"b":3.25},{"p":"m32","o":2,"a":1.15,"b":3.33},
{"p":"m34","o":0,"a":1.052,"b":3.091},{"p":"m34","o":1,"a":1.1,"b":3.193},{"p":"m34","o":2,"a":1.154,"b":3.267},{"p":"m34","o":3,"a":1.226,"b":3.33},
{"p":"m36","o":0,"a":1.052,"b":3.004},{"p":"m36","o":1,"a":1.1,"b":3.118},{"p":"m36","o":2,"a":1.154,"b":3.193},{"p":"m36","o":3,"a":1.215,"b":3.259},{"p":"m36","o":4,"a":1.296,"b":3.306},{"p":"m36","o":5,"a":1.403,"b":3.33},
{"p":"m36r","o":0,"a":1.462,"b":3.33},{"p":"m36r","o":1,"a":1.559,"b":3.3},{"p":"m36r","o":2,"a":1.66,"b":3.242},{"p":"m36r","o":3,"a":1.741,"b":3.183},{"p":"m36r","o":4,"a":1.82,"b":3.12},
{"p":"m34r","o":0,"a":1.662,"b":3.33},{"p":"m34r","o":1,"a":1.741,"b":3.272},{"p":"m34r","o":2,"a":1.82,"b":3.204},
{"p":"m32r","o":0,"a":1.763,"b":3.33},{"p":"m32r","o":1,"a":1.82,"b":3.284},
{"p":"m38","o":0,"a":1.052,"b":2.911},{"p":"m38","o":1,"a":1.1,"b":3.043},{"p":"m38","o":2,"a":1.154,"b":3.133},{"p":"m38","o":3,"a":1.215,"b":3.2},{"p":"m38","o":4,"a":1.296,"b":3.244},{"p":"m38","o":5,"a":1.371,"b":3.255},{"p":"m38","o":6,"a":1.438,"b":3.259},{"p":"m38","o":7,"a":1.519,"b":3.245},{"p":"m38","o":8,"a":1.6,"b":3.209},{"p":"m38","o":9,"a":1.681,"b":3.158},{"p":"m38","o":10,"a":1.755,"b":3.099},{"p":"m38","o":11,"a":1.82,"b":3.033},
{"p":"m40","o":0,"a":1.052,"b":2.807},{"p":"m40","o":1,"a":1.1,"b":2.957},{"p":"m40","o":2,"a":1.154,"b":3.066},{"p":"m40","o":3,"a":1.215,"b":3.133},{"p":"m40","o":4,"a":1.296,"b":3.167},{"p":"m40","o":5,"a":1.371,"b":3.18},{"p":"m40","o":6,"a":1.438,"b":3.18},{"p":"m40","o":7,"a":1.519,"b":3.163},{"p":"m40","o":8,"a":1.6,"b":3.125},{"p":"m40","o":9,"a":1.681,"b":3.071},{"p":"m40","o":10,"a":1.755,"b":3.008},{"p":"m40","o":11,"a":1.82,"b":2.937},
{"p":"m42","o":0,"a":1.052,"b":2.692},{"p":"m42","o":1,"a":1.1,"b":2.873},{"p":"m42","o":2,"a":1.154,"b":2.991},{"p":"m42","o":3,"a":1.215,"b":3.058},{"p":"m42","o":4,"a":1.296,"b":3.091},{"p":"m42","o":5,"a":1.371,"b":3.099},{"p":"m42","o":6,"a":1.438,"b":3.099},{"p":"m42","o":7,"a":1.519,"b":3.083},{"p":"m42","o":8,"a":1.6,"b":3.041},{"p":"m42","o":9,"a":1.681,"b":2.982},{"p":"m42","o":10,"a":1.755,"b":2.916},{"p":"m42","o":11,"a":1.82,"b":2.837},
{"p":"m44","o":0,"a":1.052,"b":2.559},{"p":"m44","o":1,"a":1.074,"b":2.672},{"p":"m44","o":2,"a":1.107,"b":2.79},{"p":"m44","o":3,"a":1.154,"b":2.898},{"p":"m44","o":4,"a":1.215,"b":2.974},{"p":"m44","o":5,"a":1.296,"b":3.004},{"p":"m44","o":6,"a":1.371,"b":3.014},{"p":"m44","o":7,"a":1.438,"b":3.014},{"p":"m44","o":8,"a":1.519,"b":2.996},{"p":"m44","o":9,"a":1.6,"b":2.949},{"p":"m44","o":10,"a":1.667,"b":2.89},{"p":"m44","o":11,"a":1.741,"b":2.807},{"p":"m44","o":12,"a":1.82,"b":2.723},
{"p":"m46","o":0,"a":1.052,"b":2.388},{"p":"m46","o":1,"a":1.057,"b":2.405},{"p":"m46","o":2,"a":1.087,"b":2.572},{"p":"m46","o":3,"a":1.128,"b":2.706},{"p":"m46","o":4,"a":1.181,"b":2.815},{"p":"m46","o":5,"a":1.242,"b":2.882},{"p":"m46","o":6,"a":1.316,"b":2.911},{"p":"m46","o":7,"a":1.438,"b":2.924},{"p":"m46","o":8,"a":1.519,"b":2.904},{"p":"m46","o":9,"a":1.6,"b":2.848},{"p":"m46","o":10,"a":1.681,"b":2.765},{"p":"m46","o":11,"a":1.755,"b":2.656},{"p":"m46","o":12,"a":1.82,"b":2.575},
{"p":"m48","o":0,"a":1.82,"b":2.178},{"p":"m48","o":1,"a":1.812,"b":2.112},{"p":"m48","o":2,"a":1.789,"b":2.028},{"p":"m48","o":3,"a":1.735,"b":1.919},{"p":"m48","o":4,"a":1.698,"b":1.835},{"p":"m48","o":5,"a":1.64,"b":1.76},{"p":"m48","o":6,"a":1.58,"b":1.684},{"p":"m48","o":7,"a":1.536,"b":1.631},{"p":"m48","o":8,"a":1.472,"b":1.584},{"p":"m48","o":9,"a":1.438,"b":1.559},{"p":"m48","o":10,"a":1.364,"b":1.517},{"p":"m48","o":11,"a":1.296,"b":1.509},{"p":"m48","o":12,"a":1.222,"b":1.534},{"p":"m48","o":13,"a":1.168,"b":1.609},{"p":"m48","o":14,"a":1.134,"b":1.684},{"p":"m48","o":15,"a":1.104,"b":1.768},{"p":"m48","o":16,"a":1.08,"b":1.868},{"p":"m48","o":17,"a":1.067,"b":1.986},{"p":"m48","o":18,"a":1.063,"b":2.086},{"p":"m48","o":19,"a":1.065,"b":2.204},{"p":"m48","o":20,"a":1.077,"b":2.321},{"p":"m48","o":21,"a":1.097,"b":2.405},{"p":"m48","o":22,"a":1.128,"b":2.572},{"p":"m48","o":23,"a":1.175,"b":2.689},{"p":"m48","o":24,"a":1.229,"b":2.756},{"p":"m48","o":25,"a":1.303,"b":2.798},{"p":"m48","o":26,"a":1.37,"b":2.818},{"p":"m48","o":27,"a":1.438,"b":2.823},{"p":"m48","o":28,"a":1.519,"b":2.803},{"p":"m48","o":29,"a":1.6,"b":2.748},{"p":"m48","o":30,"a":1.681,"b":2.639},{"p":"m48","o":31,"a":1.755,"b":2.53},{"p":"m48","o":32,"a":1.806,"b":2.405},{"p":"m48","o":33,"a":1.82,"b":2.338},
{"p":"m50","o":0,"a":1.148,"b":2.405},{"p":"m50","o":1,"a":1.175,"b":2.522},{"p":"m50","o":2,"a":1.229,"b":2.639},{"p":"m50","o":3,"a":1.302,"b":2.691},{"p":"m50","o":4,"a":1.37,"b":2.71},{"p":"m50","o":5,"a":1.438,"b":2.715},{"p":"m50","o":6,"a":1.519,"b":2.692},{"p":"m50","o":7,"a":1.6,"b":2.639},{"p":"m50","o":8,"a":1.667,"b":2.539},{"p":"m50","o":9,"a":1.737,"b":2.405},{"p":"m50","o":10,"a":1.755,"b":2.338},{"p":"m50","o":11,"a":1.765,"b":2.229},{"p":"m50","o":12,"a":1.755,"b":2.112},{"p":"m50","o":13,"a":1.738,"b":2.028},{"p":"m50","o":14,"a":1.698,"b":1.919},{"p":"m50","o":15,"a":1.64,"b":1.818},{"p":"m50","o":16,"a":1.58,"b":1.735},{"p":"m50","o":17,"a":1.505,"b":1.659},{"p":"m50","o":18,"a":1.438,"b":1.613},{"p":"m50","o":19,"a":1.404,"b":1.584},{"p":"m50","o":20,"a":1.33,"b":1.559},{"p":"m50","o":21,"a":1.262,"b":1.584},{"p":"m50","o":22,"a":1.212,"b":1.634},{"p":"m50","o":23,"a":1.168,"b":1.718},{"p":"m50","o":24,"a":1.131,"b":1.827},{"p":"m50","o":25,"a":1.111,"b":1.936},{"p":"m50","o":26,"a":1.102,"b":2.053},{"p":"m50","o":27,"a":1.102,"b":2.187},{"p":"m50","o":28,"a":1.117,"b":2.304},{"p":"m50","o":29,"a":1.148,"b":2.405},
{"p":"m52","o":0,"a":1.215,"b":2.405},{"p":"m52","o":1,"a":1.249,"b":2.471},{"p":"m52","o":2,"a":1.303,"b":2.555},{"p":"m52","o":3,"a":1.37,"b":2.58},{"p":"m52","o":4,"a":1.438,"b":2.589},{"p":"m52","o":5,"a":1.519,"b":2.564},{"p":"m52","o":6,"a":1.58,"b":2.514},{"p":"m52","o":7,"a":1.646,"b":2.405},{"p":"m52","o":8,"a":1.677,"b":2.329},{"p":"m52","o":9,"a":1.694,"b":2.237},{"p":"m52","o":10,"a":1.694,"b":2.128},{"p":"m52","o":11,"a":1.677,"b":2.028},{"p":"m52","o":12,"a":1.64,"b":1.919},{"p":"m52","o":13,"a":1.58,"b":1.818},{"p":"m52","o":14,"a":1.505,"b":1.726},{"p":"m52","o":15,"a":1.438,"b":1.684},{"p":"m52","o":16,"a":1.397,"b":1.667},{"p":"m52","o":17,"a":1.33,"b":1.656},{"p":"m52","o":18,"a":1.269,"b":1.693},{"p":"m52","o":19,"a":1.215,"b":1.743},{"p":"m52","o":20,"a":1.181,"b":1.843},{"p":"m52","o":21,"a":1.158,"b":1.969},{"p":"m52","o":22,"a":1.151,"b":2.086},{"p":"m52","o":23,"a":1.154,"b":2.22},{"p":"m52","o":24,"a":1.175,"b":2.321},{"p":"m52","o":25,"a":1.215,"b":2.405},
{"p":"m54","o":0,"a":1.35,"b":2.405},{"p":"m54","o":1,"a":1.389,"b":2.43},{"p":"m54","o":2,"a":1.428,"b":2.435},{"p":"m54","o":3,"a":1.464,"b":2.426},{"p":"m54","o":4,"a":1.499,"b":2.405},{"p":"m54","o":5,"a":1.559,"b":2.329},{"p":"m54","o":6,"a":1.6,"b":2.237},{"p":"m54","o":7,"a":1.61,"b":2.128},{"p":"m54","o":8,"a":1.596,"b":2.028},{"p":"m54","o":9,"a":1.559,"b":1.927},{"p":"m54","o":10,"a":1.495,"b":1.832},{"p":"m54","o":11,"a":1.438,"b":1.788},{"p":"m54","o":12,"a":1.37,"b":1.768},{"p":"m54","o":13,"a":1.33,"b":1.78},{"p":"m54","o":14,"a":1.272,"b":1.835},{"p":"m54","o":15,"a":1.232,"b":1.927},{"p":"m54","o":16,"a":1.22,"b":2.028},{"p":"m54","o":17,"a":1.221,"b":2.12},{"p":"m54","o":18,"a":1.232,"b":2.204},{"p":"m54","o":19,"a":1.256,"b":2.287},{"p":"m54","o":20,"a":1.296,"b":2.363},{"p":"m54","o":21,"a":1.35,"b":2.405},
{"p":"m46a","o":0,"a":1.052,"b":1.797},{"p":"m46a","o":1,"a":1.076,"b":1.729},{"p":"m46a","o":2,"a":1.113,"b":1.651},{"p":"m46a","o":3,"a":1.153,"b":1.575},{"p":"m46a","o":4,"a":1.216,"b":1.483},{"p":"m46a","o":5,"a":1.29,"b":1.453},{"p":"m46a","o":6,"a":1.364,"b":1.475},{"p":"m46a","o":7,"a":1.452,"b":1.525},
{"p":"m46b","o":0,"a":1.464,"b":1.53},{"p":"m46b","o":1,"a":1.517,"b":1.579},
{"p":"m46c","o":0,"a":1.573,"b":1.631},{"p":"m46c","o":1,"a":1.606,"b":1.692},{"p":"m46c","o":2,"a":1.66,"b":1.731},{"p":"m46c","o":3,"a":1.698,"b":1.793},{"p":"m46c","o":4,"a":1.735,"b":1.835},{"p":"m46c","o":5,"a":1.789,"b":1.927},{"p":"m46c","o":6,"a":1.82,"b":2.003},
{"p":"m44a","o":0,"a":1.052,"b":1.664},{"p":"m44a","o":1,"a":1.087,"b":1.567},{"p":"m44a","o":2,"a":1.128,"b":1.5},{"p":"m44a","o":3,"a":1.192,"b":1.43},
{"p":"m44b","o":0,"a":1.36,"b":1.43},{"p":"m44b","o":1,"a":1.4,"b":1.466},{"p":"m44b","o":2,"a":1.436,"b":1.483},
{"p":"m44c","o":0,"a":1.596,"b":1.631},{"p":"m44c","o":1,"a":1.617,"b":1.667},{"p":"m44c","o":2,"a":1.637,"b":1.681},
{"p":"m44d","o":0,"a":1.685,"b":1.73},{"p":"m44d","o":1,"a":1.713,"b":1.768},
{"p":"m44e","o":0,"a":1.76,"b":1.83},{"p":"m44e","o":1,"a":1.82,"b":1.927},
{"p":"m42a","o":0,"a":1.052,"b":1.567},{"p":"m42a","o":1,"a":1.08,"b":1.491},{"p":"m42a","o":2,"a":1.128,"b":1.43},
{"p":"m42b","o":0,"a":1.403,"b":1.433},{"p":"m42b","o":1,"a":1.421,"b":1.446},
{"p":"m42c","o":0,"a":1.784,"b":1.83},{"p":"m42c","o":1,"a":1.82,"b":1.893},
{"p":"m40a","o":0,"a":1.052,"b":1.491},{"p":"m40a","o":1,"a":1.085,"b":1.43},
{"p":"m40b","o":0,"a":1.801,"b":1.83},{"p":"m40b","o":1,"a":1.82,"b":1.865},
{"p":"d1","o":0,"a":1.052,"b":3.33},{"p":"d1","o":1,"a":1.054,"b":3.33},
{"p":"d2","o":0,"a":1.617,"b":1.631},{"p":"d2","o":1,"a":1.619,"b":1.631},
{"p":"d3","o":0,"a":1.816,"b":1.83},{"p":"d3","o":1,"a":1.818,"b":1.83}
]},"mark":{"type":"line","stroke":"black","strokeWidth":1,"interpolate":"catmull-rom"},"encoding":{"detail":{"field":"p"},"order":{"field":"o"}}},
{"data":{"values":[{"p":"m56","o":0,"a":1.374,"b":2.033},{"p":"m56","o":1,"a":1.394,"b":2.128},{"p":"m56","o":2,"a":1.418,"b":2.14},{"p":"m56","o":3,"a":1.428,"b":2.128},{"p":"m56","o":4,"a":1.43,"b":2.044},{"p":"m56","o":5,"a":1.418,"b":2.023},{"p":"m56","o":6,"a":1.374,"b":2.033}]},"mark":{"type":"line","stroke":"black","strokeWidth":1},"encoding":{"order":{"field":"o"}}},
{"data":{"values":[{"a":1.3326,"b":2.001}]},"mark":{"type":"point","shape":"M-1,0L1,0M0,-1L0,1","size":324,"filled":false,"stroke":"black","strokeWidth":1.7,"opacity":1}},
{"data":{"values":[{"a":1.415,"b":2.031}]},"mark":{"type":"point","shape":"M-1,-1L1,1M-1,1L1,-1","size":169,"filled":false,"stroke":"black","strokeWidth":1.7,"opacity":1}}
]},
{"width":24.5,"height":407.6,"view":{"stroke":"black","strokeWidth":1},
"data":{"values":[{"lo":-57.5,"hi":-55.34,"v":-56.4},{"lo":-55.4,"hi":-53.34,"v":-54.4},{"lo":-53.4,"hi":-51.34,"v":-52.4},{"lo":-51.4,"hi":-49.34,"v":-50.4},{"lo":-49.4,"hi":-47.34,"v":-48.4},{"lo":-47.4,"hi":-45.34,"v":-46.4},{"lo":-45.4,"hi":-43.34,"v":-44.4},{"lo":-43.4,"hi":-41.34,"v":-42.4},{"lo":-41.4,"hi":-39.34,"v":-40.4},{"lo":-39.4,"hi":-37.34,"v":-38.4},{"lo":-37.4,"hi":-35.34,"v":-36.4},{"lo":-35.4,"hi":-33.34,"v":-34.4},{"lo":-33.4,"hi":-31.34,"v":-32.4},{"lo":-31.4,"hi":-29.34,"v":-30.4},{"lo":-29.4,"hi":-27.34,"v":-28.4},{"lo":-27.4,"hi":-25.4,"v":-26.4}]},
"mark":{"type":"rect"},
"encoding":{"y":{"field":"lo","type":"quantitative","title":null,"scale":{"domain":[-57.5,-25.4],"nice":false,"zero":false},"axis":{"orient":"right","values":[-55,-50,-45,-40,-35,-30],"grid":false,"domain":false,"tickColor":"black","tickSize":5,"labelFont":"Liberation Sans","labelFontSize":13.5,"labelColor":"black","labelPadding":6}},"y2":{"field":"hi"},"x":{"value":0},"x2":{"value":24.5},
"color":{"field":"v","type":"quantitative","legend":null,"scale":{"type":"threshold","domain":[-55,-53,-51,-49,-47,-45,-43,-41,-39,-37,-35,-33,-31,-29,-27],"range":["#555555","#616161","#6c6c6c","#777777","#838383","#8e8e8e","#999999","#a4a4a4","#b0b0b0","#bbbbbb","#c6c6c6","#d2d2d2","#dddddd","#e8e8e8","#f4f4f4","#ffffff"]}}}}
]}
